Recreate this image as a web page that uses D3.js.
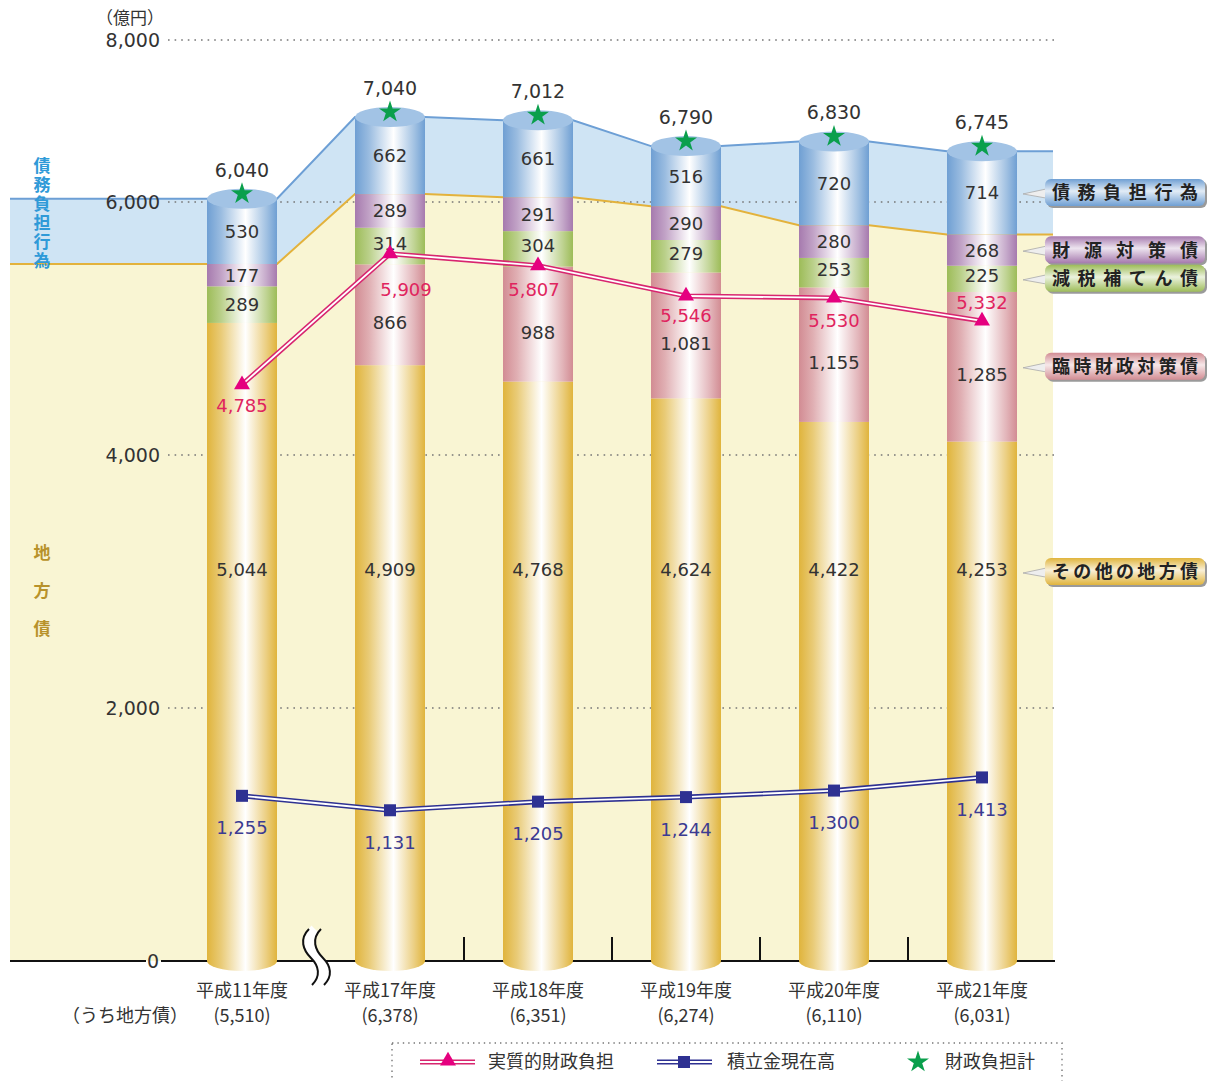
<!DOCTYPE html>
<html>
<head>
<meta charset="utf-8">
<script src="https://cdn.jsdelivr.net/npm/d3@7"></script>
<style>
  body { margin: 0; background: #fff; }
  svg { display: block; }
  text { font-family: "Noto Sans CJK JP", "Noto Sans", sans-serif; }
  text.num { font-family: "DejaVu Sans", "Liberation Sans", sans-serif; font-weight: 400; }
</style>
</head>
<body>
<svg id="chart" width="1208" height="1081"></svg>
<script>
// ---- data (億円) ----
const years = ["平成11年度", "平成17年度", "平成18年度", "平成19年度", "平成20年度", "平成21年度"];
const otherBonds = [5044, 4909, 4768, 4624, 4422, 4253];   // その他の地方債
const rinjiBonds = [0, 866, 988, 1081, 1155, 1285];        // 臨時財政対策債
const genzeiBonds = [289, 314, 304, 279, 253, 225];        // 減税補てん債
const zaigenBonds = [177, 289, 291, 290, 280, 268];        // 財源対策債
const debtBurden = [530, 662, 661, 516, 720, 714];         // 債務負担行為
const chihouTotal = [5510, 6378, 6351, 6274, 6110, 6031];  // うち地方債
const burdenTotal = [6040, 7040, 7012, 6790, 6830, 6745];  // 財政負担計
const realBurden = [4785, 5909, 5807, 5546, 5530, 5332];   // 実質的財政負担
const reserveFunds = [1255, 1131, 1205, 1244, 1300, 1413]; // 積立金現在高
const yTicks = [0, 2000, 4000, 6000, 8000];

const keys = ["other", "rinji", "genzei", "zaigen", "saimu"];
const colors = {
    other: "#e0b43c",
    rinji: "#d28c93",
    genzei: "#9dbc58",
    zaigen: "#a67aae",
    saimu: "#6f9fd3"
};
const calloutText = {
    saimu: "債務負担行為",
    zaigen: "財源対策債",
    genzei: "減税補てん債",
    rinji: "臨時財政対策債",
    other: "その他の地方債"
};

const svg = d3.select("#chart");
const fmt = d3.format(",");
const BASE = 961;
const HALF = 35;
const OTHER_LABEL_Y = 570;

// axis is compressed above 6,000 in the original
const yAxis = d3.scaleLinear().domain([0, 6000, 8000]).range([BASE, 202, 40]);
// the columns after the break are drawn a bit smaller than the axis
const yBar = d3.scaleLinear().domain([0, 7040]).range([937, 117]);
// the two line series sit a few pixels lower than the columns
const yLine = yBar.copy().range([942, 122]);
const x = d3.scalePoint().domain(years).range([242, 982]);

// first column (before the break) follows the axis scale
function yAt(i, v) {
    return i === 0 ? yAxis(v) : yBar(v);
}

const rows = years.map((y, i) => ({
    year: y,
    other: otherBonds[i],
    rinji: rinjiBonds[i],
    genzei: genzeiBonds[i],
    zaigen: zaigenBonds[i],
    saimu: debtBurden[i]
}));
const series = d3.stack().keys(keys)(rows);

// ---- gradients ----
const defs = svg.append("defs");
keys.forEach(k => {
    const g = defs.append("linearGradient")
        .attr("id", "cyl-" + k)
        .attr("x1", 0).attr("x2", 1).attr("y1", 0).attr("y2", 0);
    g.append("stop").attr("offset", "0%").attr("stop-color", colors[k]);
    g.append("stop").attr("offset", "20%").attr("stop-color", d3.interpolateRgb(colors[k], "#fff")(0.3));
    g.append("stop").attr("offset", "55%").attr("stop-color", "#fff");
    g.append("stop").attr("offset", "85%").attr("stop-color", d3.interpolateRgb(colors[k], "#fff")(0.35));
    g.append("stop").attr("offset", "100%").attr("stop-color", colors[k]);

    const c = defs.append("linearGradient")
        .attr("id", "call-" + k)
        .attr("x1", 0).attr("x2", 0).attr("y1", 0).attr("y2", 1);
    c.append("stop").attr("offset", "0%").attr("stop-color", colors[k]);
    c.append("stop").attr("offset", "45%").attr("stop-color", d3.interpolateRgb(colors[k], "#fff")(0.8));
    c.append("stop").attr("offset", "100%").attr("stop-color", colors[k]);
});

// ---- background areas ----
function edgePoints(values) {
    const pts = [[10, yAt(0, values[0])]];
    values.forEach((v, i) => {
        pts.push([x(years[i]) - HALF, yAt(i, v)]);
        pts.push([x(years[i]) + HALF, yAt(i, v)]);
    });
    pts.push([1053, yAt(values.length - 1, values[values.length - 1])]);
    return pts;
}
const topPts = edgePoints(burdenTotal);
const midPts = edgePoints(chihouTotal);
const line = d3.line();

svg.append("path")
    .attr("d", line(topPts.concat(midPts.slice().reverse())) + "Z")
    .attr("fill", "#cfe4f4");
svg.append("path")
    .attr("d", line(midPts.concat([[1053, BASE], [10, BASE]])) + "Z")
    .attr("fill", "#f9f5d3");

// ---- grid lines ----
svg.append("g").selectAll("line")
    .data(yTicks.filter(t => t > 0))
    .join("line")
    .attr("x1", 168).attr("x2", 1057)
    .attr("y1", d => yAxis(d)).attr("y2", d => yAxis(d))
    .attr("stroke", "#777")
    .attr("stroke-width", 1.6)
    .attr("stroke-dasharray", "1.6,5");

svg.append("path").attr("d", line(topPts))
    .attr("fill", "none").attr("stroke", "#6d9fd5").attr("stroke-width", 2);
svg.append("path").attr("d", line(midPts))
    .attr("fill", "none").attr("stroke", "#e3b23c").attr("stroke-width", 2);

// ---- axis labels ----
svg.append("g").selectAll("text")
    .data(yTicks)
    .join("text")
    .attr("class", "num")
    .attr("x", d => d === 0 ? 153 : 160)
    .attr("y", d => yAxis(d))
    .attr("dy", "0.36em")
    .attr("text-anchor", d => d === 0 ? "middle" : "end")
    .attr("font-size", 19)
    .attr("fill", "#333")
    .text(d => fmt(d));
svg.append("text").attr("x", 130).attr("y", 24).attr("text-anchor", "middle")
    .attr("font-size", 17).attr("fill", "#333").text("（億円）");

// baseline, separators, break mark
svg.append("line").attr("x1", 10).attr("x2", 146).attr("y1", BASE).attr("y2", BASE)
    .attr("stroke", "#111").attr("stroke-width", 2);
svg.append("line").attr("x1", 161).attr("x2", 1055).attr("y1", BASE).attr("y2", BASE)
    .attr("stroke", "#111").attr("stroke-width", 2);
svg.append("g").selectAll("line")
    .data(years.slice(1, -1))
    .join("line")
    .attr("x1", (d, i) => (x(d) + x(years[i + 2])) / 2)
    .attr("x2", (d, i) => (x(d) + x(years[i + 2])) / 2)
    .attr("y1", 937).attr("y2", BASE)
    .attr("stroke", "#111").attr("stroke-width", 2);

const bx = (x(years[0]) + x(years[1])) / 2;
function wave(cx) {
    return `M${cx - 2},929 C${cx - 12},939 ${cx - 8},950 ${cx},958 C${cx + 8},966 ${cx + 10},976 ${cx + 1},985`;
}
svg.append("path").attr("d", wave(bx + 1)).attr("fill", "none")
    .attr("stroke", "#fff").attr("stroke-width", 10);
[bx - 5, bx + 7].forEach(cx => {
    svg.append("path").attr("d", wave(cx)).attr("fill", "none")
        .attr("stroke", "#111").attr("stroke-width", 2);
});

// ---- cylinders ----
const bars = svg.append("g").selectAll("g")
    .data(years)
    .join("g")
    .attr("transform", d => `translate(${x(d)},0)`);

bars.append("ellipse")
    .attr("cx", 0).attr("cy", BASE).attr("rx", HALF).attr("ry", 10)
    .attr("fill", "url(#cyl-other)");

series.forEach(s => {
    bars.each(function (d, i) {
        const seg = s[i];
        if (seg[1] - seg[0] <= 0) return;
        const y0 = s.key === "other" ? BASE : yAt(i, seg[0]);
        const y1 = yAt(i, seg[1]);
        d3.select(this).append("rect")
            .attr("x", -HALF).attr("width", HALF * 2)
            .attr("y", y1).attr("height", y0 - y1)
            .attr("fill", `url(#cyl-${s.key})`);
    });
});

bars.append("ellipse")
    .attr("cx", 0).attr("cy", (d, i) => yAt(i, burdenTotal[i]))
    .attr("rx", HALF).attr("ry", 10)
    .attr("fill", "#a2c3e5");

// segment values
series.forEach(s => {
    bars.each(function (d, i) {
        const seg = s[i];
        const v = seg[1] - seg[0];
        if (v <= 0) return;
        let ty = (yAt(i, seg[0]) + yAt(i, seg[1])) / 2;
        if (s.key === "other") ty = OTHER_LABEL_Y;
        if (s.key === "rinji") ty += 8;
        if (s.key === "genzei" && i > 0) ty -= 3;
        d3.select(this).append("text")
            .attr("class", "num")
            .attr("x", 0).attr("y", ty).attr("dy", "0.36em")
            .attr("text-anchor", "middle")
            .attr("font-size", 18).attr("fill", "#333")
            .text(fmt(v));
    });
});

// totals and stars
bars.append("text")
    .attr("class", "num")
    .attr("x", 0).attr("y", (d, i) => yAt(i, burdenTotal[i]) - 22)
    .attr("text-anchor", "middle")
    .attr("font-size", 19).attr("fill", "#333")
    .text((d, i) => fmt(burdenTotal[i]));
const star = d3.symbol().type(d3.symbolStar).size(150);
bars.append("path")
    .attr("d", star)
    .attr("transform", (d, i) => `translate(0,${yAt(i, burdenTotal[i]) - 5})`)
    .attr("fill", "#0a9f4c");

// ---- lines ----
function doubleLine(values, color) {
    const pts = values.map((v, i) => [x(years[i]), yLine(v)]);
    svg.append("path").attr("d", line(pts)).attr("fill", "none")
        .attr("stroke", color).attr("stroke-width", 5);
    svg.append("path").attr("d", line(pts)).attr("fill", "none")
        .attr("stroke", "#fff").attr("stroke-width", 1.8);
    return pts;
}

const triPts = doubleLine(realBurden, "#d8256f");
const triLabelOffset = [[0, 21], [16, 36], [-4, 24], [0, 20], [0, 23], [0, -18]];
svg.append("g").selectAll("path")
    .data(triPts)
    .join("path")
    .attr("d", d3.symbol().type(d3.symbolTriangle).size(110))
    .attr("transform", d => `translate(${d[0]},${d[1]})`)
    .attr("fill", "#e5007f");
svg.append("g").selectAll("text")
    .data(triPts)
    .join("text")
    .attr("class", "num")
    .attr("x", (d, i) => d[0] + triLabelOffset[i][0])
    .attr("y", (d, i) => d[1] + triLabelOffset[i][1])
    .attr("dy", "0.36em")
    .attr("text-anchor", "middle")
    .attr("font-size", 18).attr("fill", "#e0245e")
    .text((d, i) => fmt(realBurden[i]));

const sqPts = doubleLine(reserveFunds, "#2e3192");
svg.append("g").selectAll("rect")
    .data(sqPts)
    .join("rect")
    .attr("x", d => d[0] - 6).attr("y", d => d[1] - 6)
    .attr("width", 12).attr("height", 12)
    .attr("fill", "#2e3192");
svg.append("g").selectAll("text")
    .data(sqPts)
    .join("text")
    .attr("class", "num")
    .attr("x", d => d[0])
    .attr("y", d => d[1] + 32)
    .attr("dy", "0.36em")
    .attr("text-anchor", "middle")
    .attr("font-size", 18).attr("fill", "#3b3b92")
    .text((d, i) => fmt(reserveFunds[i]));

// ---- x labels ----
const xl = svg.append("g").selectAll("g")
    .data(years)
    .join("g")
    .attr("transform", d => `translate(${x(d)},0)`);
xl.append("text").attr("y", 997).attr("text-anchor", "middle")
    .attr("font-size", 18).attr("fill", "#333").text(d => d);
xl.append("text").attr("y", 1022).attr("text-anchor", "middle")
    .attr("font-size", 18).attr("fill", "#333")
    .text((d, i) => `(${fmt(chihouTotal[i])})`);
svg.append("text").attr("x", 125).attr("y", 1022).attr("text-anchor", "middle")
    .attr("font-size", 18).attr("fill", "#333").text("（うち地方債）");

// ---- left vertical labels ----
svg.append("text")
    .attr("x", 42).attr("y", 157)
    .style("writing-mode", "vertical-rl")
    .style("text-orientation", "upright")
    .attr("font-size", 17).attr("font-weight", 700).attr("fill", "#2f9ad8")
    .attr("letter-spacing", 2)
    .text("債務負担行為");
svg.append("text")
    .attr("x", 42).attr("y", 544)
    .style("writing-mode", "vertical-rl")
    .style("text-orientation", "upright")
    .attr("font-size", 17).attr("font-weight", 700).attr("fill", "#b8922a")
    .attr("letter-spacing", 21)
    .text("地方債");

// ---- right callouts (aligned with the last column) ----
const last = years.length - 1;
const callouts = keys.slice().reverse().map(k => {
    const seg = series[keys.indexOf(k)][last];
    const mid = k === "other" ? OTHER_LABEL_Y + 2 : (yBar(seg[0]) + yBar(seg[1])) / 2;
    return { key: k, y: mid };
});
const co = svg.append("g").selectAll("g")
    .data(callouts)
    .join("g")
    .attr("transform", d => `translate(1045,${d.y})`);
co.append("path")
    .attr("d", "M-22,1 L6,-5 L6,6 Z")
    .attr("fill", "#eee").attr("stroke", "#aaa").attr("stroke-width", 0.8);
co.append("rect")
    .attr("x", 2).attr("y", -12).attr("width", 160).attr("height", 27).attr("rx", 6)
    .attr("fill", "#9a9a9a");
co.append("rect")
    .attr("x", 0).attr("y", -14).attr("width", 160).attr("height", 27).attr("rx", 6)
    .attr("fill", d => `url(#call-${d.key})`);
co.append("text")
    .attr("x", 7).attr("y", 0).attr("dy", "0.36em")
    .attr("textLength", 146).attr("lengthAdjust", "spacing")
    .attr("font-size", 18).attr("font-weight", 700).attr("fill", "#222")
    .text(d => calloutText[d.key]);

// ---- legend ----
svg.append("rect")
    .attr("x", 392).attr("y", 1043).attr("width", 670).attr("height", 60)
    .attr("fill", "none").attr("stroke", "#777").attr("stroke-width", 1.4)
    .attr("stroke-dasharray", "1.4,4");
const lg = svg.append("g").attr("transform", "translate(0,1062)");
[[420, "#d8256f"], [657, "#2e3192"]].forEach(([lx, c]) => {
    lg.append("line").attr("x1", lx).attr("x2", lx + 55).attr("stroke", c).attr("stroke-width", 5);
    lg.append("line").attr("x1", lx).attr("x2", lx + 55).attr("stroke", "#fff").attr("stroke-width", 1.8);
});
lg.append("path").attr("d", d3.symbol().type(d3.symbolTriangle).size(110))
    .attr("transform", "translate(448,-1)").attr("fill", "#e5007f");
lg.append("rect").attr("x", 678).attr("y", -6).attr("width", 12).attr("height", 12).attr("fill", "#2e3192");
lg.append("path").attr("d", star).attr("transform", "translate(918,0)").attr("fill", "#0a9f4c");
[[488, "実質的財政負担"], [727, "積立金現在高"], [945, "財政負担計"]].forEach(([tx, t]) => {
    lg.append("text").attr("x", tx).attr("y", 0).attr("dy", "0.36em")
        .attr("font-size", 18).attr("fill", "#333").text(t);
});
</script>
</body>
</html>
